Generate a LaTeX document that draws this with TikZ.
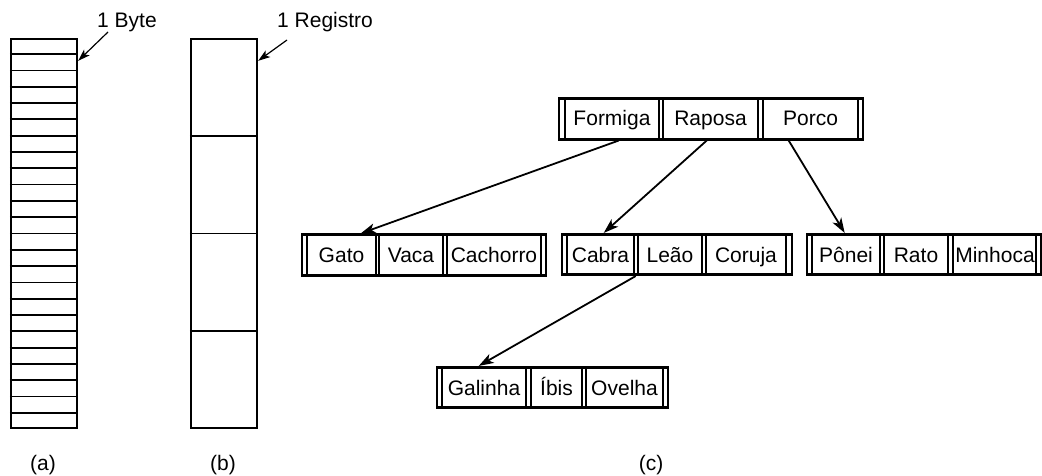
\documentclass[tikz,border=0pt]{standalone}
\usepackage{fontspec}
\setmainfont{Liberation Sans}
\usetikzlibrary{arrows.meta,calc}
\begin{document}
\begin{tikzpicture}[x=1pt,y=-1pt,
  txt/.style={font=\fontsize{21}{25}\selectfont, inner sep=0pt},
  key/.style={txt, anchor=base},
  bbox/.style={draw, line width=2.6pt, minimum width=#1, minimum height=40.5pt, inner sep=0pt},
  col/.style={draw, line width=2.4pt, minimum width=66pt, minimum height=389pt, inner sep=0pt},
  ptr/.style={line width=1.6pt},
  cell/.style={line width=1.8pt},
  tarrow/.style={line width=1.8pt, -{Stealth[length=15pt,width=10pt,inset=4pt]}},
  larrow/.style={line width=1.2pt, -{Stealth[length=12pt,width=8pt,inset=3pt]}}
]
\useasboundingbox (0,0) rectangle (1042,476);

% (a) column of bytes
\node[col] (cola) at (44,233.5) {};
\foreach \i in {1,...,23}
  \draw[cell] ($(cola.north west)!\i/24!(cola.south west)$) -- ($(cola.north east)!\i/24!(cola.south east)$);
\node[txt, anchor=base west] (lbyte) at (97,28) {1 Byte};
\draw[larrow] ([xshift=11pt,yshift=-4pt]lbyte.base west) -- ([yshift=-23pt]cola.north east);

% (b) column of records
\node[col] (colb) at (224,233.5) {};
\foreach \i in {1,2,3}
  \draw[cell] ($(colb.north west)!\i/4!(colb.south west)$) -- ($(colb.north east)!\i/4!(colb.south east)$);
\node[txt, anchor=base west] (lreg) at (277,28) {1 Registro};
\draw[larrow] ([xshift=10pt,yshift=-12pt]lreg.base west) -- ([yshift=-23pt]colb.north east);

% (c) tree
% root
\node[bbox=304pt] (root) at (711,119) {};
\foreach \x in {565,659,663,758,763,858} \draw[ptr] (\x,99) -- (\x,139);
\node[key] (kformiga) at (612,126) {Formiga};
\node[key] (kraposa) at (710.5,126) {Raposa};
\node[key] (kporco) at (810.5,126) {Porco};

% Gato node
\node[bbox=244pt] (gato) at (424,255) {};
\foreach \x in {307,376,379,443,447,541} \draw[ptr] (\x,235) -- (\x,275);
\node[key] (kgato) at (341.5,262) {Gato};
\node[key] (kvaca) at (411,262) {Vaca};
\node[key] (kcachorro) at (494,262) {Cachorro};

% Cabra node
\node[bbox=230pt] (cabra) at (677,254.5) {};
\foreach \x in {567,634,638,702,706,786} \draw[ptr] (\x,234) -- (\x,275);
\node[key] (kcabra) at (600.5,262) {Cabra};
\node[key] (kleao) at (670,262) {Leão};
\node[key] (kcoruja) at (746,262) {Coruja};

% Ponei node
\node[bbox=234pt] (ponei) at (924,254.5) {};
\foreach \x in {812,880,884,948,953,1036} \draw[ptr] (\x,234) -- (\x,275);
\node[key] (kponei) at (846,262) {Pônei};
\node[key] (krato) at (916,262) {Rato};
\node[key] (kminhoca) at (995,262) {Minhoca};

% Galinha node
\node[bbox=231pt] (galinha) at (552.5,387.5) {};
\foreach \x in {442,526,531,582,586,663} \draw[ptr] (\x,367) -- (\x,408);
\node[key] (kgalinha) at (484,395) {Galinha};
\node[key] (kibis) at (556.5,395) {Íbis};
\node[key] (kovelha) at (624.5,395) {Ovelha};

% tree arrows
\draw[tarrow] ([xshift=61pt]root.south west) -- ([xshift=60pt]gato.north west);
\draw[tarrow] ([xshift=149pt]root.south west) -- ([xshift=43pt]cabra.north west);
\draw[tarrow] ([xshift=231pt]root.south west) -- ([xshift=39pt]ponei.north west);
\draw[tarrow] ([xshift=75pt]cabra.south west) -- ([xshift=43pt]galinha.north west);

% captions
\node[txt] (capa) at (43,465) {(a)};
\node[txt] (capb) at (223,465) {(b)};
\node[txt] (capc) at (651,465) {(c)};
\end{tikzpicture}
\end{document}
